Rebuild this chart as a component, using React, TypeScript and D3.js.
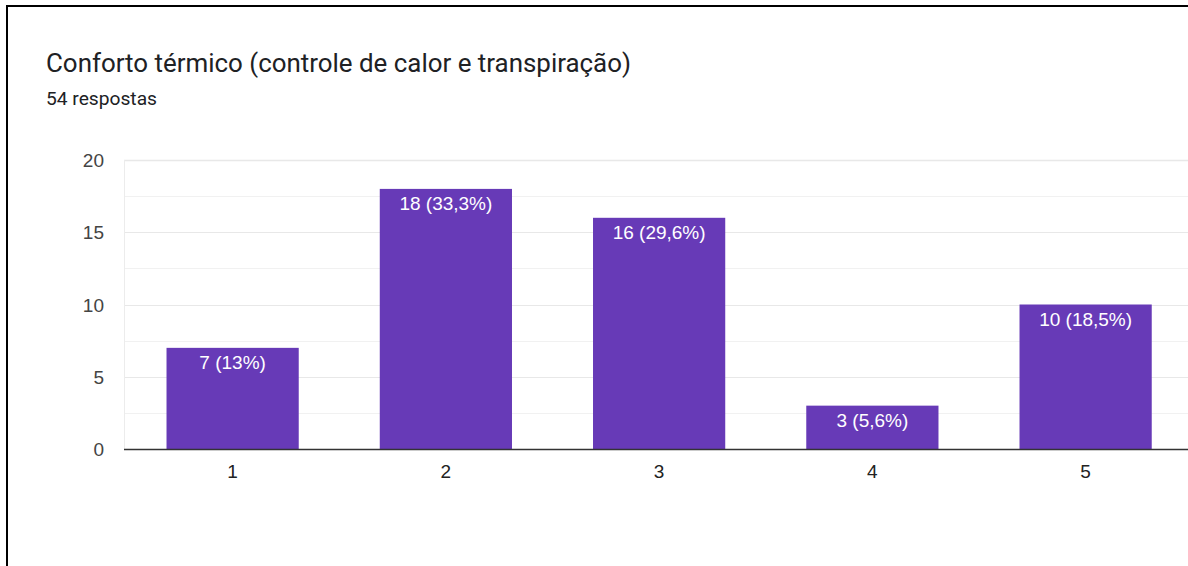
import React from "react";
import * as d3 from "d3";

const categories = ["1", "2", "3", "4", "5"];
const values = [7, 18, 16, 3, 10];
const labels = ["7 (13%)", "18 (33,3%)", "16 (29,6%)", "3 (5,6%)", "10 (18,5%)"];
const yTicks = [0, 5, 10, 15, 20];
const yMinor = [2.5, 7.5, 12.5, 17.5];
const title = "Conforto térmico (controle de calor e transpiração)";
const subtitle = "54 respostas";

export default function App() {
  const W = 1188, H = 566;
  const left = 124, top = 160, bottom = 449;
  const x = d3.scaleBand().domain(categories).range([126, 126 + 5 * 213.25]).paddingInner(0.38).paddingOuter(0.19);
  const y = d3.scaleLinear().domain([0, 20]).range([bottom, top]);
  const chartFont = "'Liberation Sans', Arial, sans-serif";
  return (
    <svg width={W} height={H} style={{ position: "absolute", left: 0, top: 0, background: "#fff" }}>
      <rect x={0} y={0} width={W} height={H} fill="#fff" />
      <line x1={7} y1={5} x2={7} y2={H} stroke="#000" strokeWidth={2} />
      <line x1={6} y1={6} x2={W} y2={6} stroke="#000" strokeWidth={2} />
      <text x={46} y={72} fontFamily="Roboto, sans-serif" fontSize={25} fill="#202124" textLength={585} lengthAdjust="spacingAndGlyphs">{title}</text>
      <text x={46} y={105} fontFamily="Roboto, sans-serif" fontSize={17.5} fill="#202124" textLength={111} lengthAdjust="spacingAndGlyphs">{subtitle}</text>
      {yMinor.map((t) => (
        <line key={"m" + t} x1={left} x2={W} y1={Math.round(y(t)) + 0.5} y2={Math.round(y(t)) + 0.5} stroke="#f1f1f1" />
      ))}
      {yTicks.slice(1).map((t) => (
        <line key={"g" + t} x1={left} x2={W} y1={Math.round(y(t)) + 0.5} y2={Math.round(y(t)) + 0.5} stroke="#e8e8e8" strokeWidth={t === 20 ? 1.5 : 1} />
      ))}
      <line x1={left + 0.5} x2={left + 0.5} y1={top} y2={bottom} stroke="#ececec" />
      {yTicks.map((t) => (
        <text key={"t" + t} x={104} y={y(t) + 7} textAnchor="end" fontFamily={chartFont} fontSize={19} fill="#444">{t}</text>
      ))}
      {categories.map((c, i) => (
        <g key={c}>
          <rect x={x(c)} y={y(values[i])} width={x.bandwidth()} height={bottom - y(values[i])} fill="#673ab7" />
          <text x={(x(c) as number) + x.bandwidth() / 2} y={y(values[i]) + 21} textAnchor="middle" fontFamily={chartFont} fontSize={19} fill="#fff">{labels[i]}</text>
          <text x={(x(c) as number) + x.bandwidth() / 2} y={478} textAnchor="middle" fontFamily={chartFont} fontSize={19} fill="#222">{c}</text>
        </g>
      ))}
      <line x1={left} x2={W} y1={bottom + 0.5} y2={bottom + 0.5} stroke="#333" strokeWidth={1.5} />
    </svg>
  );
}
